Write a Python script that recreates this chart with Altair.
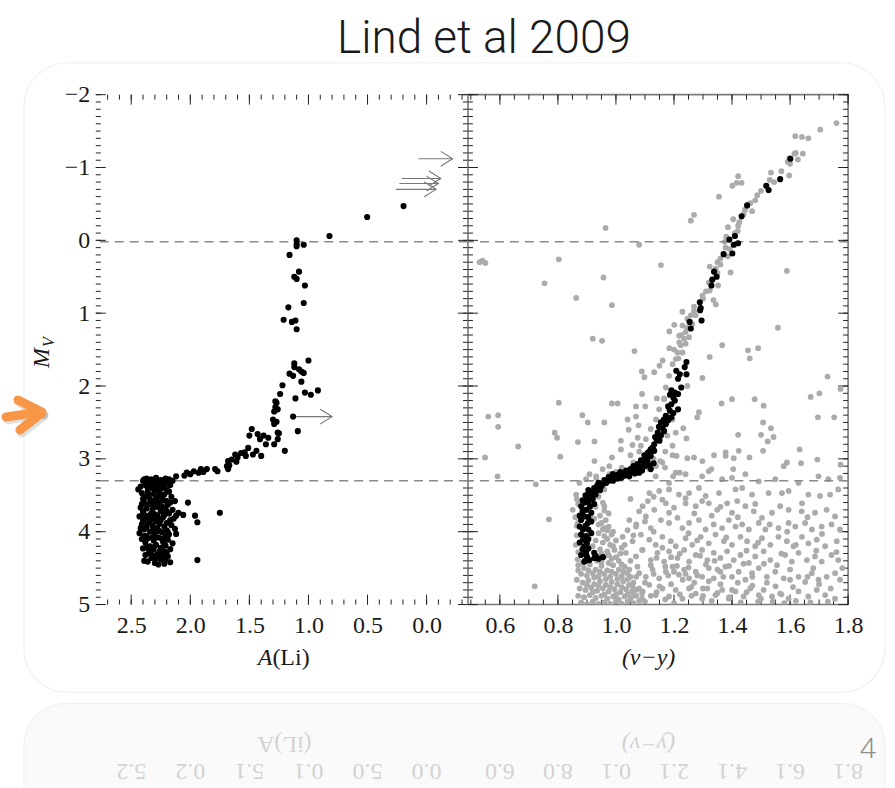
import altair as alt
import pandas as pd

# ---------------- data ----------------
# Left panel: A(Li) vs M_V (black points)
li_giants = [
    (0.195, -0.47), (0.503, -0.32), (0.822, -0.06), (1.10, 0.00), (1.10, 0.05), (1.10, 0.08),
    (1.04, 0.06), (1.16, 0.20), (1.08, 0.43), (1.12, 0.50), (1.10, 0.53), (1.03, 0.62),
    (1.04, 0.86), (1.17, 0.92), (1.21, 1.09), (1.14, 1.12), (1.11, 1.10), (1.10, 1.22),
    (1.00, 1.65), (1.12, 1.69), (1.12, 1.74), (1.16, 1.83), (1.13, 1.86), (1.08, 1.77),
    (1.06, 1.80), (1.04, 1.82), (1.06, 1.94), (1.11, 2.17), (1.03, 2.09), (0.98, 2.12),
    (0.92, 2.06), (1.13, 2.42), (1.09, 2.62),
]
li_subgiants = [
    (1.22, 1.99), (1.24, 2.11), (1.27, 2.23), (1.26, 2.32), (1.29, 2.35), (1.30, 2.46),
    (1.27, 2.49), (1.29, 2.52), (1.25, 2.65), (1.26, 2.73), (1.29, 2.80), (1.20, 2.89),
    (1.28, 2.21), (1.28, 2.29), (1.26, 2.64), (1.36, 2.80), (1.34, 2.71), (1.38, 2.68),
    (1.43, 2.66), (1.48, 2.59), (1.50, 2.68), (1.41, 2.73), (1.40, 2.96), (1.44, 2.89),
    (1.47, 2.94), (1.51, 2.85), (1.53, 2.96), (1.54, 2.91), (1.57, 2.92), (1.60, 2.98),
    (1.61, 3.04), (1.62, 2.94), (1.65, 3.01), (1.67, 3.09), (1.68, 3.03), (1.69, 3.10),
    (1.68, 3.14), (1.77, 3.17), (1.79, 3.14), (1.86, 3.14), (1.89, 3.18), (1.91, 3.14),
    (1.93, 3.19), (1.97, 3.17), (2.00, 3.21), (2.03, 3.19), (2.05, 3.23), (2.12, 3.24),
    (1.75, 3.74), (2.02, 3.60), (1.96, 3.78), (1.94, 3.87), (1.94, 4.39), (2.06, 3.77),
]
li_dwarfs = [
    (2.42, 3.38), (2.40, 3.30), (2.37, 3.27), (2.35, 3.33), (2.33, 3.28), (2.31, 3.35),
    (2.29, 3.26), (2.27, 3.31), (2.25, 3.29), (2.23, 3.34), (2.21, 3.27), (2.19, 3.32),
    (2.17, 3.36), (2.15, 3.30), (2.38, 3.36), (2.32, 3.40), (2.28, 3.37), (2.24, 3.40),
    (2.44, 3.42), (2.20, 3.42), (2.41, 3.47), (2.38, 3.52), (2.36, 3.45), (2.34, 3.56),
    (2.31, 3.48), (2.29, 3.55), (2.26, 3.46), (2.24, 3.53), (2.22, 3.49), (2.20, 3.58),
    (2.18, 3.45), (2.16, 3.52), (2.33, 3.62), (2.27, 3.60), (2.19, 3.63), (2.13, 3.58),
    (2.39, 3.60), (2.42, 3.67), (2.40, 3.73), (2.37, 3.68), (2.35, 3.78), (2.32, 3.70),
    (2.30, 3.76), (2.28, 3.66), (2.25, 3.72), (2.23, 3.80), (2.21, 3.69), (2.18, 3.75),
    (2.15, 3.70), (2.12, 3.78), (2.10, 3.74), (2.43, 3.79), (2.38, 3.82), (2.27, 3.83),
    (2.17, 3.84), (2.41, 3.90), (2.39, 3.97), (2.36, 3.88), (2.34, 4.00), (2.32, 3.92),
    (2.30, 4.03), (2.28, 3.95), (2.26, 3.89), (2.24, 4.01), (2.22, 3.93), (2.20, 3.98),
    (2.18, 4.04), (2.16, 3.91), (2.13, 3.96), (2.43, 4.02), (2.37, 4.06), (2.29, 3.86),
    (2.21, 4.07), (2.12, 4.03), (2.41, 4.10), (2.38, 4.15), (2.36, 4.09), (2.34, 4.20),
    (2.31, 4.12), (2.29, 4.18), (2.27, 4.08), (2.25, 4.22), (2.23, 4.14), (2.21, 4.19),
    (2.19, 4.11), (2.17, 4.24), (2.15, 4.16), (2.33, 4.26), (2.26, 4.27), (2.40, 4.23),
    (2.38, 4.32), (2.36, 4.41), (2.33, 4.36), (2.30, 4.43), (2.28, 4.31), (2.25, 4.38),
    (2.22, 4.44), (2.19, 4.34), (2.17, 4.42), (2.20, 4.29), (2.35, 4.29), (2.27, 4.45),
    (2.39, 3.28), (2.34, 3.31), (2.30, 3.30), (2.26, 3.33), (2.22, 3.30), (2.18, 3.28),
    (2.36, 3.40), (2.30, 3.43), (2.26, 3.40), (2.22, 3.38), (2.40, 3.55), (2.35, 3.50),
    (2.31, 3.58), (2.27, 3.52), (2.23, 3.57), (2.17, 3.60), (2.41, 3.62), (2.36, 3.63),
    (2.30, 3.64), (2.24, 3.65), (2.20, 3.72), (2.39, 3.77), (2.33, 3.75), (2.28, 3.78),
    (2.22, 3.77), (2.14, 3.82), (2.40, 3.85), (2.34, 3.85), (2.31, 3.82), (2.25, 3.84),
    (2.20, 3.88), (2.42, 3.95), (2.37, 3.94), (2.31, 3.97), (2.26, 3.99), (2.19, 4.01),
    (2.39, 4.06), (2.32, 4.08), (2.24, 4.10), (2.37, 4.22), (2.31, 4.24), (2.22, 4.27),
    (2.29, 4.36), (2.32, 4.33), (2.24, 4.33), (2.39, 4.40), (2.21, 4.38),
]
# upper limits on A(Li): (M_V, A(Li) start, A(Li) end)
li_limits = [(-1.12, 0.07, -0.22), (-0.85, 0.21, -0.12), (-0.78, 0.23, -0.10),
             (-0.70, 0.26, -0.08), (2.42, 1.12, 0.80)]

# Right panel: (v-y) vs M_V, photometry (grey) and spectroscopic sample (black)
vy_gray_upper = [
    (1.760, -1.61), (1.704, -1.52), (1.618, -1.43), (1.641, -1.42), (1.663, -1.40), (1.644, -1.19),
    (1.615, -1.19), (1.598, -1.13), (1.592, -1.08), (1.627, -1.11), (1.597, -0.89), (1.534, -0.93),
    (1.530, -0.83), (1.487, -0.62), (1.463, -0.51), (1.469, -0.40), (1.440, -0.36), (1.404, -0.29),
    (1.421, -0.20), (1.386, -0.18), (1.420, -0.13), (1.375, 0.02), (1.378, 0.10), (1.395, 0.44),
    (1.323, 0.36), (1.344, 0.39), (1.352, 0.62), (1.323, 0.69), (1.298, 0.76), (1.336, 0.82),
    (1.344, 0.88), (1.269, 0.91), (1.269, 0.97), (1.258, 1.03), (1.401, -0.75), (1.416, -0.79),
    (1.433, -0.79), (1.421, -0.88), (1.355, -0.60), (1.269, -0.35), (1.258, -0.27), (1.589, 0.42),
    (1.155, 0.34), (1.080, 0.06), (0.964, -0.17), (0.803, 0.26), (0.754, 0.59), (0.957, 0.51),
    (0.863, 0.79), (0.986, 0.89), (0.530, 0.30), (0.540, 0.28), (0.550, 0.31), (1.380, -0.05),
    (1.360, 0.25), (1.350, 0.30),
]
vy_gray_mid = [
    (1.558, 1.20), (0.920, 1.35), (0.952, 1.38), (1.064, 1.52), (1.184, 1.25), (1.201, 1.16),
    (1.218, 1.31), (1.184, 1.48), (1.161, 1.65), (1.150, 1.72), (1.132, 1.81), (1.089, 1.80),
    (1.098, 1.88), (1.323, 1.60), (1.298, 1.89), (1.366, 1.44), (1.455, 1.51), (1.461, 1.62),
    (1.490, 1.48), (1.729, 1.87), (1.671, 2.15), (1.701, 2.10), (1.752, 2.43), (1.696, 2.43),
    (1.633, 2.87), (1.694, 3.01), (1.589, 3.05), (1.578, 3.10), (1.638, 3.06), (1.400, 2.18),
    (1.364, 2.24), (1.478, 2.18), (1.509, 2.27), (1.507, 2.50), (1.534, 2.58), (1.500, 2.67),
    (1.543, 2.70), (1.523, 2.76), (1.507, 2.89), (1.421, 2.67), (1.460, 2.98), (1.406, 2.99),
    (1.378, 2.91), (1.378, 2.96), (1.338, 2.95), (1.298, 3.03), (1.286, 2.36), (1.280, 2.43),
    (1.246, 2.00), (1.232, 2.58), (1.243, 2.72), (1.209, 2.96), (1.195, 2.95), (1.269, 2.98),
    (1.246, 2.99), (1.329, 3.14), (1.197, 3.24), (1.220, 3.19), (1.152, 3.03), (1.169, 3.12),
    (1.057, 2.81), (1.075, 2.71), (1.017, 2.75), (1.017, 2.87), (1.040, 2.46), (1.044, 2.60),
    (1.069, 2.42), (1.078, 2.54), (1.069, 2.28), (1.101, 2.28), (1.090, 2.11), (1.141, 2.17),
    (1.166, 2.17), (0.986, 2.24), (1.006, 2.24), (0.884, 2.40), (0.869, 2.77), (0.926, 2.76),
    (0.926, 3.03), (0.986, 2.98), (0.803, 2.23), (0.789, 2.64), (0.797, 2.71), (0.808, 2.97),
    (0.663, 2.83), (0.594, 2.40), (0.560, 2.42), (0.594, 2.56), (0.549, 2.98), (0.960, 2.50),
    (0.903, 2.50), (1.774, 3.08), (1.774, 2.04), (1.404, 3.14), (1.423, 2.89), (0.592, 3.24),
    (0.724, 3.35), (0.769, 3.83), (0.720, 4.75),
]
vy_gray_sequence = [
    (1.229, 0.98), (1.246, 1.08), (1.229, 1.17), (1.240, 1.26), (1.235, 1.35), (1.223, 1.44),
    (1.212, 1.54), (1.229, 1.54), (1.206, 1.63), (1.275, 1.03), (1.263, 1.15), (1.252, 1.33),
    (1.240, 1.42), (1.195, 1.70), (1.183, 1.86), (1.172, 2.02), (1.166, 2.18), (1.149, 2.32),
    (1.138, 2.46), (1.120, 2.59), (1.103, 2.73), (1.086, 2.82), (1.183, 2.32), (1.195, 2.46),
    (1.177, 2.68), (1.195, 2.82), (1.206, 2.64), (1.115, 3.14), (1.138, 3.10), (1.160, 3.05),
    (0.909, 3.21), (0.932, 3.24), (0.954, 3.14), (0.977, 3.10), (0.863, 3.49), (0.851, 3.70),
    (0.869, 3.88), (0.874, 3.33), (0.897, 3.28), (0.932, 3.26), (0.977, 3.21), (0.960, 3.42),
    (1.245, 1.20), (1.225, 1.30), (1.218, 1.40), (1.200, 1.50), (1.215, 1.62), (1.300, 0.80),
    (1.310, 0.70), (1.320, 0.58), (1.350, 0.45), (1.360, 0.33), (1.385, 0.22), (1.392, 0.12),
    (1.410, -0.10), (1.425, -0.25), (1.445, -0.42), (1.480, -0.55), (1.500, -0.68), (1.545, -0.80),
    (1.570, -0.95), (1.600, -1.05), (1.620, -1.20), (1.170, 2.90), (1.130, 3.00), (1.060, 3.05),
    (1.020, 3.12), (1.000, 3.18), (1.050, 2.95), (1.080, 2.90),
]
vy_gray_field = [
    (1.206, 3.19), (1.240, 3.21), (1.297, 3.24), (1.320, 3.17), (1.366, 3.28), (1.400, 3.26),
    (1.446, 3.21), (1.492, 3.31), (1.549, 3.28), (1.629, 3.33), (1.698, 3.24), (1.732, 3.28),
    (1.772, 3.26), (1.137, 3.24), (1.183, 3.33),
    (1.115, 3.47), (1.149, 3.44), (1.183, 3.42), (1.217, 3.49), (1.252, 3.47), (1.286, 3.40),
    (1.309, 3.51), (1.355, 3.47), (1.412, 3.42), (1.435, 3.40), (1.469, 3.49), (1.526, 3.47),
    (1.572, 3.47), (1.595, 3.44), (1.663, 3.49), (1.703, 3.51), (1.738, 3.49), (1.766, 3.42),
    (1.092, 3.65), (1.132, 3.70), (1.172, 3.61), (1.183, 3.74), (1.200, 3.67), (1.240, 3.61),
    (1.275, 3.65), (1.297, 3.58), (1.320, 3.61), (1.349, 3.70), (1.383, 3.61), (1.400, 3.74),
    (1.418, 3.58), (1.446, 3.65), (1.475, 3.72), (1.503, 3.81), (1.538, 3.74), (1.566, 3.65),
    (1.595, 3.70), (1.641, 3.61), (1.686, 3.74), (1.726, 3.70), (1.755, 3.79),
    (1.046, 3.84), (1.069, 3.93), (1.103, 3.79), (1.120, 3.95), (1.155, 3.84), (1.183, 3.88),
    (1.212, 3.81), (1.229, 3.95), (1.252, 3.88), (1.286, 3.84), (1.309, 3.97), (1.337, 3.90),
    (1.366, 3.95), (1.389, 3.84), (1.412, 3.93), (1.435, 3.90), (1.458, 3.97), (1.492, 3.88),
    (1.515, 3.97), (1.560, 3.95), (1.595, 3.88), (1.618, 3.93), (1.652, 3.88), (1.675, 3.97),
    (1.709, 3.93), (1.743, 3.90), (1.772, 3.97),
    (1.023, 4.07), (1.057, 4.13), (1.086, 4.04), (1.115, 4.11), (1.137, 4.18), (1.160, 4.07),
    (1.189, 4.13), (1.206, 4.20), (1.240, 4.09), (1.263, 4.18), (1.292, 4.07), (1.320, 4.16),
    (1.343, 4.04), (1.372, 4.13), (1.400, 4.18), (1.429, 4.07), (1.452, 4.13), (1.480, 4.20),
    (1.503, 4.09), (1.532, 4.18), (1.560, 4.07), (1.589, 4.13), (1.612, 4.20), (1.641, 4.07),
    (1.663, 4.16), (1.692, 4.11), (1.721, 4.20), (1.761, 4.13),
    (1.034, 4.29), (1.069, 4.34), (1.092, 4.25), (1.120, 4.39), (1.143, 4.29), (1.166, 4.41),
    (1.183, 4.27), (1.212, 4.36), (1.235, 4.25), (1.252, 4.41), (1.275, 4.32), (1.297, 4.25),
    (1.315, 4.39), (1.337, 4.29), (1.360, 4.36), (1.383, 4.27), (1.406, 4.39), (1.429, 4.32),
    (1.458, 4.43), (1.480, 4.34), (1.509, 4.27), (1.532, 4.39), (1.555, 4.46), (1.583, 4.32),
    (1.606, 4.41), (1.629, 4.29), (1.658, 4.39), (1.686, 4.34), (1.709, 4.41), (1.743, 4.32),
    (1.766, 4.39),
    (1.046, 4.52), (1.074, 4.48), (1.103, 4.62), (1.126, 4.52), (1.149, 4.64), (1.172, 4.55),
    (1.195, 4.48), (1.217, 4.59), (1.235, 4.52), (1.252, 4.64), (1.275, 4.55), (1.297, 4.62),
    (1.320, 4.50), (1.337, 4.64), (1.360, 4.55), (1.377, 4.48), (1.400, 4.62), (1.423, 4.55),
    (1.446, 4.66), (1.469, 4.57), (1.492, 4.50), (1.520, 4.62), (1.549, 4.55), (1.578, 4.64),
    (1.600, 4.52), (1.629, 4.62), (1.652, 4.69), (1.675, 4.57), (1.698, 4.66), (1.726, 4.62),
    (1.755, 4.57), (1.772, 4.66),
    (1.057, 4.75), (1.092, 4.82), (1.115, 4.73), (1.137, 4.87), (1.160, 4.78), (1.183, 4.89),
    (1.206, 4.80), (1.229, 4.92), (1.252, 4.78), (1.275, 4.85), (1.297, 4.92), (1.315, 4.78),
    (1.343, 4.87), (1.366, 4.80), (1.389, 4.92), (1.412, 4.82), (1.440, 4.89), (1.463, 4.78),
    (1.492, 4.87), (1.509, 4.80), (1.538, 4.89), (1.566, 4.85), (1.595, 4.92), (1.629, 4.82),
    (1.663, 4.89), (1.692, 4.80), (1.721, 4.87), (1.755, 4.92),
    (1.05, 3.55), (1.08, 3.72), (1.10, 3.86), (1.13, 4.00), (1.16, 4.22), (1.19, 4.35),
    (1.21, 4.47), (1.24, 4.58), (1.27, 4.70), (1.30, 4.78), (1.33, 4.95), (1.36, 4.72),
    (1.40, 4.80), (1.43, 4.97), (1.22, 4.30), (1.18, 4.60), (1.15, 4.75), (1.26, 4.88),
    (1.31, 4.45), (1.12, 4.46), (1.09, 4.25), (1.06, 4.05), (1.04, 3.98), (1.11, 3.58),
    (1.25, 4.02), (1.35, 4.52), (1.47, 4.62), (1.55, 4.75), (1.60, 4.66), (1.68, 4.50),
    (1.73, 4.96), (1.49, 4.96), (1.58, 4.98), (1.20, 4.98), (1.10, 4.96), (1.07, 4.62),
    (1.14, 4.36), (1.28, 4.12), (1.38, 4.08), (1.45, 4.26), (1.51, 4.44), (1.62, 4.18),
    (1.66, 3.80),
    (1.13, 3.52), (1.16, 3.56), (1.24, 3.54), (1.27, 3.75), (1.33, 3.78), (1.36, 3.66),
    (1.42, 3.80), (1.48, 3.62), (1.53, 3.90), (1.59, 4.00), (1.64, 3.72), (1.71, 4.03),
    (1.76, 4.28), (1.69, 4.26), (1.57, 4.30), (1.49, 4.15), (1.44, 4.44), (1.39, 4.47),
    (1.34, 4.40), (1.29, 4.33), (1.25, 4.49), (1.20, 4.55), (1.17, 4.48), (1.13, 4.58),
    (1.10, 4.70), (1.08, 4.78), (1.12, 4.88), (1.17, 4.93), (1.22, 4.86), (1.28, 4.60),
    (1.32, 4.68), (1.37, 4.62), (1.42, 4.70), (1.47, 4.74), (1.52, 4.70), (1.57, 4.86),
    (1.61, 4.76), (1.66, 4.62), (1.70, 4.72), (1.74, 4.78), (1.78, 4.50), (1.07, 3.90),
    (1.03, 4.18), (1.05, 4.40), (1.08, 4.57), (1.04, 4.65), (1.06, 4.88), (1.09, 4.92),
    (1.14, 4.83), (1.19, 4.72), (1.23, 4.66), (1.26, 4.76), (1.30, 4.88), (1.35, 4.84),
    (1.39, 4.90), (1.45, 4.83), (1.50, 4.92), (1.54, 4.96), (1.62, 4.95), (1.67, 4.97),
]
vy_gray_turnoff = [
    (0.940, 3.52), (0.955, 3.60), (0.930, 3.66), (0.960, 3.71), (0.870, 3.62), (0.865, 3.55),
    (0.945, 3.78), (0.965, 3.84), (0.940, 3.90), (0.975, 3.93), (0.925, 3.82), (0.860, 3.80),
    (0.865, 3.92), (0.955, 3.97), (0.940, 4.02), (0.960, 4.06), (0.985, 4.04), (0.930, 4.12),
    (0.955, 4.15), (0.980, 4.18), (1.000, 4.12), (0.865, 4.05), (0.862, 4.18), (0.920, 4.20),
    (0.945, 4.24), (0.970, 4.27), (0.995, 4.25), (1.015, 4.30), (0.960, 4.34), (0.985, 4.37),
    (1.010, 4.40), (0.870, 4.28), (0.868, 4.38), (0.935, 4.40), (0.870, 4.46), (0.890, 4.50),
    (0.910, 4.45), (0.930, 4.52), (0.950, 4.47), (0.970, 4.53), (0.990, 4.46), (1.010, 4.52),
    (1.030, 4.48), (0.880, 4.58), (0.900, 4.60), (0.920, 4.57), (0.940, 4.61), (0.960, 4.58),
    (0.980, 4.62), (1.000, 4.58), (1.020, 4.61), (1.040, 4.57), (0.865, 4.66), (0.885, 4.70),
    (0.905, 4.67), (0.925, 4.72), (0.945, 4.68), (0.965, 4.73), (0.985, 4.69), (1.005, 4.72),
    (1.025, 4.68), (1.045, 4.73), (0.875, 4.78), (0.895, 4.80), (0.915, 4.77), (0.935, 4.81),
    (0.955, 4.78), (0.975, 4.82), (0.995, 4.79), (1.015, 4.83), (1.035, 4.79), (1.055, 4.82),
    (0.870, 4.88), (0.890, 4.90), (0.910, 4.87), (0.930, 4.91), (0.950, 4.88), (0.970, 4.92),
    (0.990, 4.89), (1.010, 4.93), (1.030, 4.89), (1.050, 4.92), (1.070, 4.88), (0.880, 4.97),
    (0.900, 4.99), (0.920, 4.96), (0.940, 4.99), (0.960, 4.97), (0.980, 4.99), (1.000, 4.96),
    (1.020, 4.99), (1.040, 4.96), (1.060, 4.98), (1.080, 4.95),
    (0.870, 4.53), (0.885, 4.43), (0.950, 4.42), (0.975, 4.43), (1.000, 4.35), (1.020, 4.45),
    (1.050, 4.62), (1.060, 4.70), (1.070, 4.80), (1.090, 4.85), (0.905, 4.53), (0.925, 4.63),
    (0.945, 4.55), (0.965, 4.65), (0.985, 4.55), (1.005, 4.65), (1.025, 4.55), (0.900, 4.73),
    (0.920, 4.83), (0.940, 4.74), (0.960, 4.86), (0.980, 4.76), (1.000, 4.86), (1.020, 4.76),
    (1.040, 4.86), (0.970, 4.10), (0.990, 4.20), (0.950, 4.30), (0.975, 4.32), (1.020, 4.22),
    (0.960, 3.95), (0.970, 3.98), (0.990, 4.00), (0.950, 3.88), (0.975, 3.75), (0.960, 3.65),
]
vy_black = [
    (1.601, -1.12), (1.566, -0.84), (1.518, -0.75), (1.526, -0.69), (1.452, -0.48), (1.433, -0.33),
    (1.410, -0.06), (1.391, -0.01), (1.406, 0.06), (1.421, 0.04), (1.371, 0.19), (1.401, 0.18),
    (1.338, 0.43), (1.347, 0.50), (1.332, 0.54), (1.329, 0.62), (1.289, 0.85), (1.292, 0.93),
    (1.290, 0.96), (1.295, 1.10), (1.254, 1.12), (1.258, 1.21), (1.243, 1.67), (1.237, 1.74),
    (1.208, 1.79), (1.220, 1.84), (1.243, 1.84), (1.214, 1.90), (1.191, 2.06), (1.186, 2.12),
    (1.203, 2.09), (1.214, 2.11), (1.203, 2.20), (1.191, 2.25), (1.214, 2.32), (1.186, 2.34),
    (1.172, 2.41), (1.191, 2.43), (1.155, 2.50), (1.172, 2.52), (1.161, 2.58), (1.144, 2.64),
    (1.155, 2.68), (1.140, 2.73), (1.150, 2.75), (1.132, 2.80), (1.120, 2.87), (1.132, 2.89),
    (1.109, 2.92), (1.120, 2.96), (1.103, 2.98), (1.109, 3.03), (1.097, 3.05), (1.080, 3.10),
    (1.091, 3.12), (1.069, 3.12), (1.058, 3.17), (1.041, 3.19), (1.024, 3.20), (1.006, 3.22),
    (0.989, 3.21), (1.225, 2.02), (1.198, 2.16), (1.180, 2.28), (1.198, 2.37), (1.165, 2.46),
    (1.180, 2.47), (1.148, 2.56), (1.166, 2.62), (1.135, 2.70), (1.127, 2.84), (1.115, 2.90),
    (1.098, 2.95), (1.086, 3.02), (1.075, 3.07), (1.060, 3.10), (1.050, 3.14), (1.035, 3.16),
    (1.015, 3.18), (1.000, 3.24), (0.975, 3.25), (1.045, 3.22), (1.070, 3.17),
    (1.120, 3.14), (1.080, 3.19), (1.046, 3.24), (1.017, 3.26), (0.980, 3.28), (0.966, 3.33),
    (0.949, 3.38), (0.932, 3.42), (0.915, 3.47), (0.903, 3.54), (0.891, 3.60), (0.897, 3.70),
    (0.891, 3.79), (0.903, 3.88), (0.886, 3.97), (0.897, 4.06), (0.886, 4.11), (0.891, 4.20),
    (0.897, 4.29), (0.891, 4.41), (0.926, 4.36), (0.909, 4.39),
    (0.990, 3.25), (0.975, 3.30), (0.960, 3.29), (0.955, 3.35), (0.940, 3.33), (0.935, 3.37),
    (0.925, 3.40), (0.945, 3.43), (0.920, 3.45), (0.905, 3.43), (0.910, 3.50), (0.930, 3.49),
    (0.895, 3.50), (0.920, 3.55), (0.885, 3.57), (0.905, 3.60), (0.925, 3.62), (0.880, 3.65),
    (0.910, 3.66), (0.885, 3.72), (0.915, 3.74), (0.875, 3.78), (0.905, 3.80), (0.880, 3.84),
    (0.915, 3.86), (0.895, 3.92), (0.875, 3.93), (0.905, 3.97), (0.915, 4.02), (0.880, 4.04),
    (0.905, 4.10), (0.875, 4.15), (0.900, 4.16), (0.885, 4.24), (0.905, 4.23), (0.880, 4.32),
    (0.900, 4.34), (0.895, 4.40), (0.940, 4.37), (0.955, 4.35), (0.930, 4.33), (0.925, 4.29),
    (1.100, 3.10), (1.090, 3.16), (1.065, 3.20), (1.055, 3.15), (1.030, 3.23), (1.020, 3.25),
    (1.005, 3.27), (1.040, 3.18), (0.990, 3.30), (1.130, 3.06), (1.115, 3.09),
]

# reference levels (M_V) marked with dashed lines
mv_levels = [0.02, 3.3]

# axis ticks / labels
li_labels = [2.5, 2.0, 1.5, 1.0, 0.5, 0.0]
vy_labels = [0.6, 0.8, 1.0, 1.2, 1.4, 1.6, 1.8]
mv_labels = [-2, -1, 0, 1, 2, 3, 4, 5]
li_minor = [round(2.7 - 0.1 * i, 1) for i in range(31)]
vy_minor = [round(0.5 + 0.05 * i, 2) for i in range(27)]
mv_minor = [round(-2 + 0.1 * i, 1) for i in range(71)]

# ---------------- layout constants ----------------
WL, WR, H = 373, 381, 511          # plot areas
OX, OY = 95, 93                     # page position of the left plot's corner
RX = 468                            # page position of the right plot's left edge
SERIF = "Liberation Serif"
TICK = "#222222"
FRAME = "#7a7a7a"
GREY = "#ababab"
ORANGE = "#f79646"

X_LI = alt.Scale(domain=[2.8, -0.35], nice=False, zero=False)
X_VY = alt.Scale(domain=[0.49, 1.8], nice=False, zero=False)
Y_MV = alt.Scale(domain=[-2, 5], reverse=True, nice=False, zero=False)

AXIS_STYLE = dict(ticks=False, domain=False, grid=False, labelFont=SERIF, labelFontSize=24,
                  labelColor="#1a1a1a", labelFlush=False, labelOverlap=False, title=None, zindex=2)
AX_LI = alt.Axis(values=li_labels, format=".1f", labelPadding=9, **AXIS_STYLE)
AX_VY = alt.Axis(values=vy_labels, format=".1f", labelPadding=9, **AXIS_STYLE)
AX_MV = alt.Axis(values=mv_labels, format="d", labelPadding=6, labelBaseline="middle", **AXIS_STYLE)


def pts(pairs, xname):
    return pd.DataFrame({xname: [p[0] for p in pairs], "mv": [p[1] for p in pairs]})


one = pd.DataFrame({"k": [0]})


def page_text(text, x, y, **kw):
    """Text placed in page pixels, relative to the left plot corner."""
    return alt.Chart(one).mark_text(**kw).encode(
        x=alt.value(x - OX), y=alt.value(y - OY), text=alt.value(text))


def page_rule(x1, y1, x2, y2, **kw):
    return alt.Chart(one).mark_rule(**kw).encode(
        x=alt.value(x1 - OX), y=alt.value(y1 - OY), x2=alt.value(x2 - OX), y2=alt.value(y2 - OY))


def frame_ticks(xscale, xaxis, xmajor, xminor, width, yaxis):
    """Inward major/minor ticks on all four sides of a plot."""
    layers = []
    for vals, ln in ((xmajor, 10), (xminor, 5)):
        d = pd.DataFrame({"t": vals})
        xe = alt.X("t:Q", scale=xscale, axis=xaxis)
        layers.append(alt.Chart(d).mark_rule(color=TICK, strokeWidth=1).encode(
            x=xe, y=alt.value(H), y2=alt.value(H - ln)))
        layers.append(alt.Chart(d).mark_rule(color=TICK, strokeWidth=1).encode(
            x=xe, y=alt.value(0), y2=alt.value(ln)))
    for vals, ln in ((mv_labels, 10), (mv_minor, 5)):
        d = pd.DataFrame({"t": vals})
        ye = alt.Y("t:Q", scale=Y_MV, axis=yaxis)
        layers.append(alt.Chart(d).mark_rule(color=TICK, strokeWidth=1).encode(
            y=ye, x=alt.value(0), x2=alt.value(ln)))
        layers.append(alt.Chart(d).mark_rule(color=TICK, strokeWidth=1).encode(
            y=ye, x=alt.value(width), x2=alt.value(width - ln)))
    return layers


def dashed(yaxis):
    return alt.Chart(pd.DataFrame({"mv": mv_levels})).mark_rule(
        color="#8a8a8a", strokeWidth=1.6, strokeDash=[9, 6]).encode(
        y=alt.Y("mv:Q", scale=Y_MV, axis=yaxis))


def mirrored(labels, xscale, xaxis):
    """Faded upside-down copy of the tick labels (slide reflection)."""
    d = pd.DataFrame({"t": labels, "s": [f"{v:.1f}"[::-1] for v in labels]})
    return alt.Chart(d).mark_text(font=SERIF, fontSize=24, angle=180, color="#d2d2d2",
                                  baseline="middle").encode(
        x=alt.X("t:Q", scale=xscale, axis=xaxis), y=alt.value(771 - OY), text="s:N")


# ---------------- slide decoration (drawn with the left panel) ----------------
page_bg = alt.Chart(one).mark_rect(color="white", strokeWidth=0).encode(
    x=alt.value(-OX), x2=alt.value(895 - OX), y=alt.value(-OY), y2=alt.value(788 - OY))
card = alt.Chart(one).mark_rect(fill="white", stroke="#f0f0f0", strokeWidth=1.2,
                                cornerRadius=44).encode(
    x=alt.value(23 - OX), x2=alt.value(886 - OX), y=alt.value(61 - OY), y2=alt.value(692 - OY))
card_reflection = alt.Chart(one).mark_rect(fill="#fafafa", stroke="#f1f1f1", strokeWidth=1.2,
                                           cornerRadiusTopLeft=44, cornerRadiusTopRight=44).encode(
    x=alt.value(23 - OX), x2=alt.value(886 - OX), y=alt.value(703 - OY), y2=alt.value(788 - OY))

title = page_text("Lind et al 2009", 484, 51, font="Roboto", fontWeight=300, fontSize=46,
                  color="#1a1a1a", align="center", baseline="alphabetic")
page_no = page_text("4", 869, 750, font="Noto Sans", fontWeight=300, fontSize=28,
                    color="#8c8c8c", align="center", baseline="middle")

pointer = [
    page_rule(7, 419, 41, 413, color="#000000", opacity=0.12, strokeWidth=9, strokeCap="round"),
    page_rule(19, 402, 43, 414, color="#000000", opacity=0.12, strokeWidth=9, strokeCap="round"),
    page_rule(43, 415, 21, 432, color="#000000", opacity=0.12, strokeWidth=9, strokeCap="round"),
    page_rule(5, 416, 39, 411, color=ORANGE, strokeWidth=9, strokeCap="round"),
    page_rule(17, 399, 41, 411, color=ORANGE, strokeWidth=9, strokeCap="round"),
    page_rule(41, 412, 19, 429, color=ORANGE, strokeWidth=9, strokeCap="round"),
]

mv_title = [
    page_text("M", 41, 357, font=SERIF, fontStyle="italic", fontSize=24, angle=270,
              color="#1a1a1a", align="center", baseline="middle"),
    page_text("V", 48, 341, font=SERIF, fontStyle="italic", fontSize=16, angle=270,
              color="#1a1a1a", align="center", baseline="middle"),
]
li_title = [
    page_text("A", 272, 658, font=SERIF, fontStyle="italic", fontSize=24, color="#1a1a1a",
              align="right", baseline="middle"),
    page_text("(Li)", 272, 658, font=SERIF, fontSize=24, color="#1a1a1a",
              align="left", baseline="middle"),
]
li_title_reflect = [
    page_text("(iL)A", 284, 744, font=SERIF, fontSize=24, angle=180, color="#d2d2d2",
              align="center", baseline="middle"),
]

# ---------------- left panel: A(Li) ----------------
li_pts = pd.concat([pts(li_giants, "ali"), pts(li_subgiants, "ali"), pts(li_dwarfs, "ali")])
li_scatter = alt.Chart(li_pts).mark_circle(size=38, color="black", opacity=1).encode(
    x=alt.X("ali:Q", scale=X_LI, axis=AX_LI), y=alt.Y("mv:Q", scale=Y_MV, axis=AX_MV))

lim = pd.DataFrame({"mv": [r[0] for r in li_limits], "a0": [r[1] for r in li_limits],
                    "a1": [r[2] for r in li_limits]})
li_arrows = alt.Chart(lim).mark_rule(color="#777777", strokeWidth=1.1).encode(
    x=alt.X("a0:Q", scale=X_LI, axis=AX_LI), x2="a1:Q", y=alt.Y("mv:Q", scale=Y_MV, axis=AX_MV))
li_heads = alt.Chart(lim).mark_point(shape="M-1.6,-1L0,0L-1.6,1", filled=False, size=220,
                                     color="#777777", strokeWidth=1.1, opacity=1).encode(
    x=alt.X("a1:Q", scale=X_LI, axis=AX_LI), y=alt.Y("mv:Q", scale=Y_MV, axis=AX_MV))

left = alt.layer(
    page_bg, card, card_reflection, title, page_no, *pointer, *mv_title, *li_title,
    *li_title_reflect, mirrored(li_labels, X_LI, AX_LI),
    *frame_ticks(X_LI, AX_LI, li_labels, li_minor, WL, AX_MV),
    dashed(AX_MV), li_arrows, li_heads, li_scatter,
).properties(width=WL, height=H)

# ---------------- right panel: (v-y) ----------------
gray_pts = pd.concat([pts(vy_gray_upper, "vy"), pts(vy_gray_mid, "vy"), pts(vy_gray_sequence, "vy"),
                      pts(vy_gray_field, "vy"), pts(vy_gray_turnoff, "vy")])
vy_gray = alt.Chart(gray_pts).mark_circle(size=34, color=GREY, opacity=1, clip=True).encode(
    x=alt.X("vy:Q", scale=X_VY, axis=AX_VY), y=alt.Y("mv:Q", scale=Y_MV, axis=None))
vy_blk = alt.Chart(pts(vy_black, "vy")).mark_circle(size=38, color="black", opacity=1).encode(
    x=alt.X("vy:Q", scale=X_VY, axis=AX_VY), y=alt.Y("mv:Q", scale=Y_MV, axis=None))

vy_title = alt.Chart(one).mark_text(font=SERIF, fontStyle="italic", fontSize=24,
                                    color="#1a1a1a", baseline="middle").encode(
    x=alt.value(649 - RX), y=alt.value(658 - OY), text=alt.value("(v\u2212y)"))
vy_title_reflect = alt.Chart(one).mark_text(font=SERIF, fontStyle="italic", fontSize=24, angle=180,
                                            color="#d2d2d2", baseline="middle").encode(
    x=alt.value(649 - RX), y=alt.value(744 - OY), text=alt.value("(y\u2212v)"))

right = alt.layer(
    vy_title_reflect, mirrored(vy_labels, X_VY, AX_VY),
    *frame_ticks(X_VY, AX_VY, vy_labels, vy_minor, WR, None),
    vy_gray, dashed(None), vy_blk, vy_title,
).properties(width=WR, height=H)

chart = alt.hconcat(left, right, spacing=0, bounds="flush").properties(
    padding=0, background="white"
).configure_view(stroke=FRAME, strokeWidth=1.6)

chart.save("out.html", embed_options={"renderer": "svg", "actions": False})
